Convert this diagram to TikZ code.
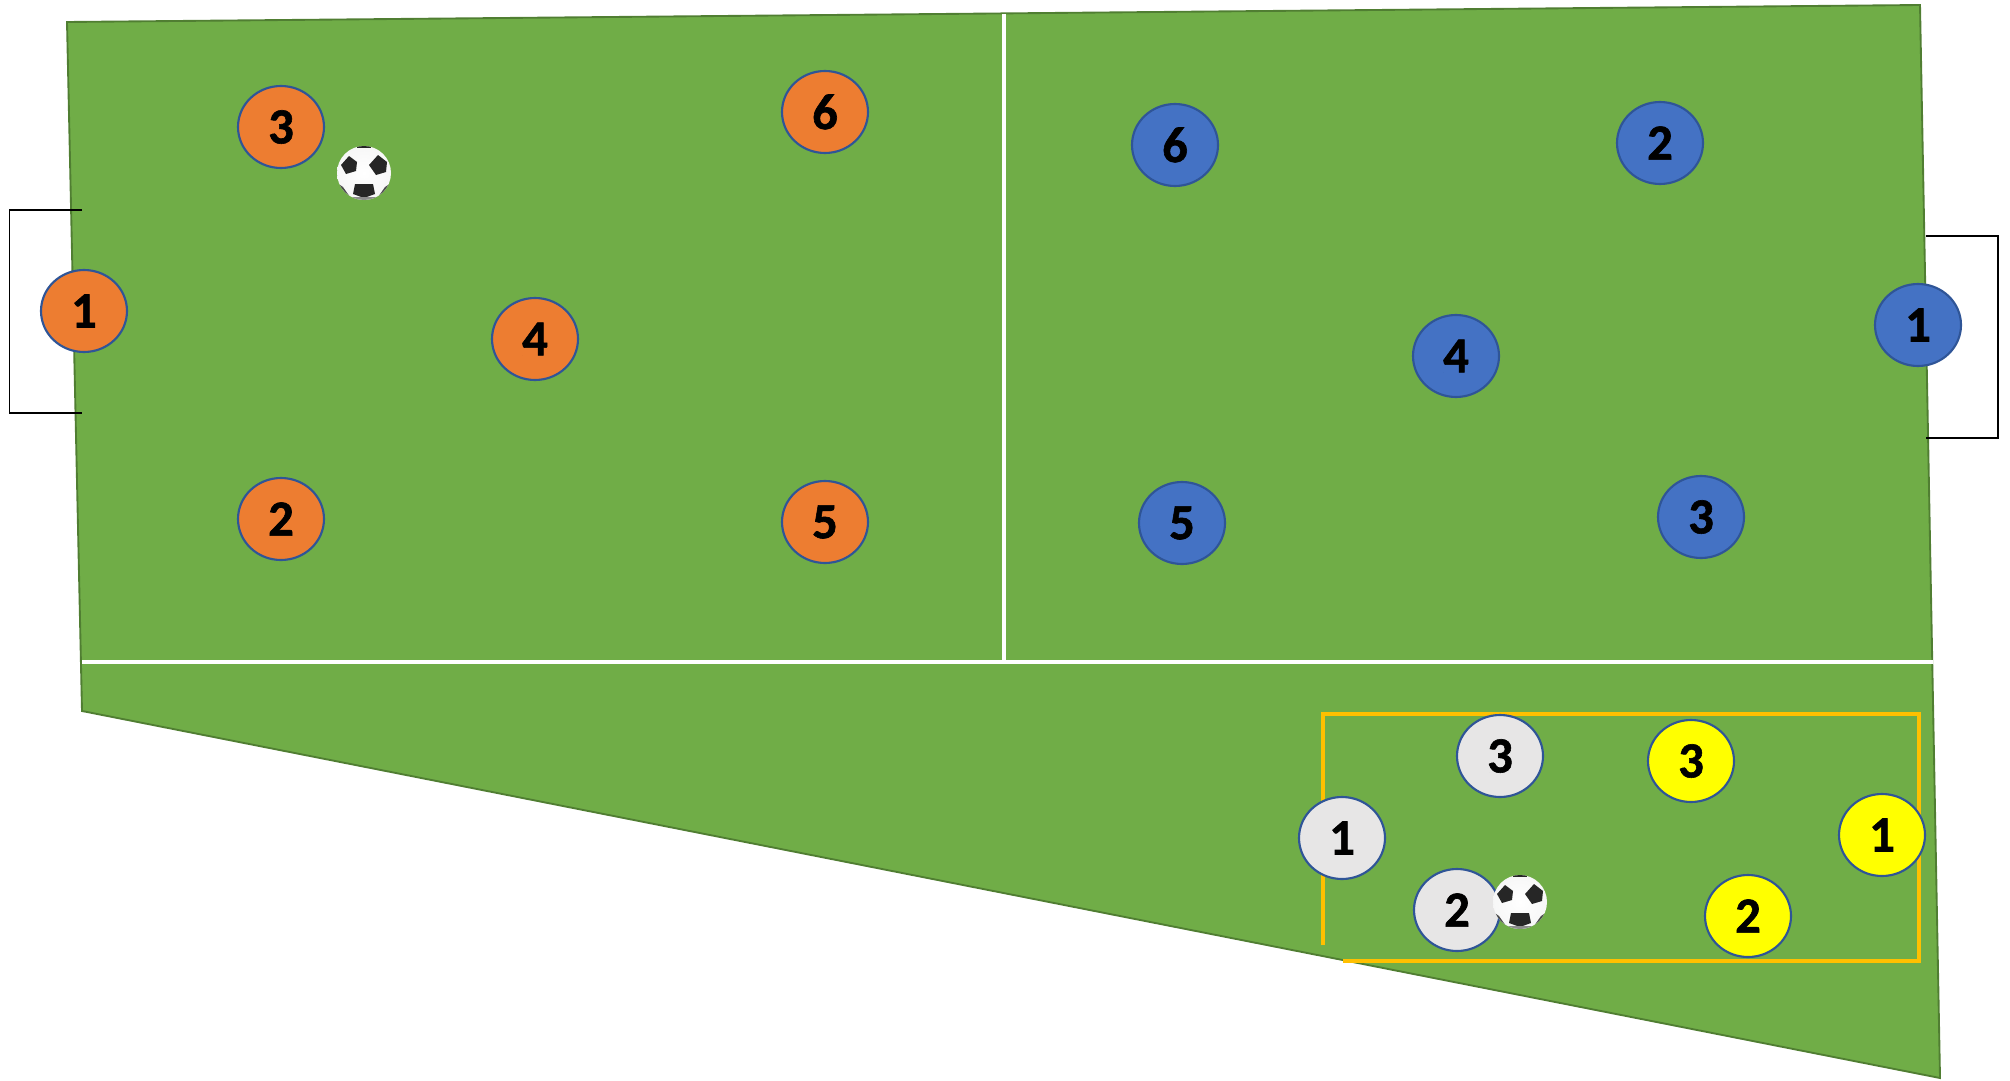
\documentclass[tikz,border=0pt]{standalone}
\usepackage{fontspec}
\setmainfont{Carlito}
\newfontfamily\digitfont[BoldFont={Carlito Bold},BoldFeatures={FakeBold=1.2}]{Carlito}
\usetikzlibrary{shapes.geometric}
\definecolor{pitch}{HTML}{70AD47}
\definecolor{pitchedge}{HTML}{507E32}
\definecolor{ringblue}{HTML}{2F5597}
\definecolor{orangeteam}{HTML}{ED7D31}
\definecolor{blueteam}{HTML}{4472C4}
\definecolor{greyteam}{HTML}{E7E6E6}
\definecolor{yellowteam}{HTML}{FFFF00}
\definecolor{cage}{HTML}{FFC000}
\definecolor{patch}{HTML}{262626}
\pgfdeclareradialshading{ballshade}{\pgfpoint{0bp}{0bp}}{color(0bp)=(white);color(24bp)=(black!3);color(42bp)=(black!14);color(50bp)=(black!30)}
\tikzset{
  player/.style={ellipse,draw=ringblue,line width=1.6pt,minimum width=64.5pt,minimum height=61.5pt,inner sep=0pt,text=black,font=\digitfont\fontsize{38}{38}\selectfont\bfseries},
  orangep/.style={player,fill=orangeteam},
  bluep/.style={player,fill=blueteam},
  greyp/.style={player,fill=greyteam},
  yellowp/.style={player,fill=yellowteam},
  goalline/.style={draw=black,line width=0.8pt},
  cageline/.style={draw=cage,line width=2.6pt},
  markline/.style={draw=white,line width=2.4pt},
  pentagonpatch/.style={fill=patch,draw=none},
  pics/ball/.style={code={
    \shade[shading=ballshade] (0,0) circle (27);
    \begin{scope}
      \clip (0,0) circle (27);
      \fill[pentagonpatch] (-15,-17) -- (-7,-11) -- (-8,-2) -- (-18,1) -- (-23,-8) -- cycle;
      \fill[pentagonpatch] (14,-18) -- (23,-11) -- (22,-1) -- (12,2) -- (5,-8) -- cycle;
      \fill[pentagonpatch] (-9,11) -- (9,11) -- (11,21) -- (0,25) -- (-11,21) -- cycle;
      \fill[pentagonpatch] (-7,-29) rectangle (7,-25);
      \fill[black!70] (-27,10) -- (-21,14) -- (-14,24) -- (-20,24) -- cycle;
      \fill[black!70] (27,10) -- (21,14) -- (14,24) -- (20,24) -- cycle;
      \fill[black!45] (-14,24) -- (14,24) -- (10,28) -- (-10,28) -- cycle;
    \end{scope}
  }}
}
\begin{document}
\begin{tikzpicture}[x=0.75pt,y=-0.75pt]
\useasboundingbox (0,0) rectangle (2010,1081);
% pitch
\draw[fill=pitch,draw=pitchedge,line width=1.4pt] (67,22) -- (1920,5) -- (1940,1078) -- (82,711) -- cycle;
\draw[markline] (1004,14) -- (1004,661);
\draw[markline] (82,662) -- (1933,662);
% goals
\coordinate (gla) at (82,210); \coordinate (glb) at (9.5,210); \coordinate (glc) at (9.5,413); \coordinate (gld) at (82,413);
\draw[goalline] (gla) -- (glb) -- (glc) -- (gld);
\coordinate (gra) at (1926,236); \coordinate (grb) at (1998,236); \coordinate (grc) at (1998,438); \coordinate (grd) at (1926,438);
\draw[goalline] (gra) -- (grb) -- (grc) -- (grd);
% small-sided area
\coordinate (ya) at (1323,714); \coordinate (yb) at (1919,714); \coordinate (yc) at (1919,961); \coordinate (yd) at (1343,961); \coordinate (ye) at (1323,945);
\draw[cageline] (ye) -- (ya) -- (yb) -- (yc) -- (yd);
% orange team
\node[orangep] (o3) at (281,127) {3};
\node[orangep] (o6) at (825,112) {6};
\node[orangep] (o1) at (84,311) {1};
\node[orangep] (o4) at (535,339) {4};
\node[orangep] (o2) at (281,519) {2};
\node[orangep] (o5) at (825,522) {5};
% blue team
\node[bluep] (b6) at (1175,145) {6};
\node[bluep] (b2) at (1660,143) {2};
\node[bluep] (b4) at (1456,356) {4};
\node[bluep] (b1) at (1918,325) {1};
\node[bluep] (b5) at (1182,523) {5};
\node[bluep] (b3) at (1701,517) {3};
% grey team
\node[greyp] (g3) at (1500,756) {3};
\node[greyp] (g1) at (1342,838) {1};
\node[greyp] (g2) at (1457,910) {2};
% yellow team
\node[yellowp] (y3) at (1691,761) {3};
\node[yellowp] (y1) at (1882,835) {1};
\node[yellowp] (y2) at (1748,916) {2};
% balls
\pic at (364,173) {ball};
\pic at (1520,902) {ball};
\end{tikzpicture}
\end{document}
